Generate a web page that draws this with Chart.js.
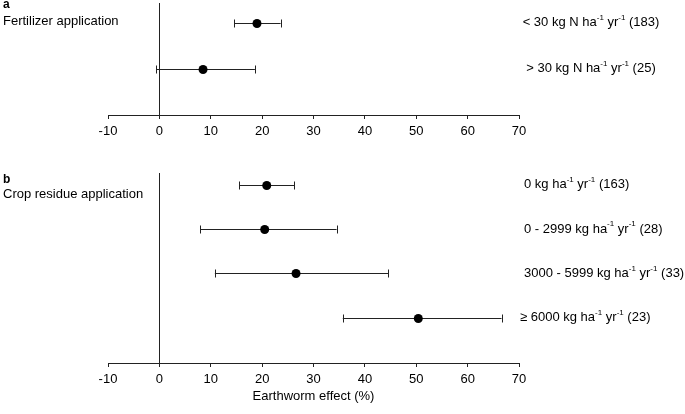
<!DOCTYPE html>
<html>
<head>
<meta charset="utf-8">
<script src="https://cdn.jsdelivr.net/npm/chart.js@4.4.1/dist/chart.umd.min.js"></script>
<style>
  body { margin: 0; background: #fff; overflow: hidden; }
  .panel { position: absolute; left: 0; width: 685px; }
  #top { top: 0; height: 144px; }
  #bottom { top: 160px; height: 250px; }
</style>
</head>
<body>
<div class="panel" id="top"><canvas id="chartA"></canvas></div>
<div class="panel" id="bottom"><canvas id="chartB"></canvas></div>
<script>
// panel a: fertilizer application
const fertLabels = ['< 30 kg N ha^-1 yr^-1 (183)', '> 30 kg N ha^-1 yr^-1 (25)'];
const fertMean = [19.0, 8.5];
const fertLow = [14.6, -0.6];
const fertHigh = [23.6, 18.6];

// panel b: crop residue application
const residueLabels = ['0 kg ha^-1 yr^-1 (163)', '0 - 2999 kg ha^-1 yr^-1 (28)', '3000 - 5999 kg ha^-1 yr^-1 (33)', '\u2265 6000 kg ha^-1 yr^-1 (23)'];
const residueMean = [20.9, 20.5, 26.6, 50.4];
const residueLow = [15.5, 8.0, 10.8, 35.7];
const residueHigh = [26.3, 34.5, 44.5, 66.6];

const xTicks = [-10, 0, 10, 20, 30, 40, 50, 60, 70];
const xTitle = 'Earthworm effect (%)';

const FONT = 'Liberation Sans, Arial, sans-serif';
Chart.defaults.font.family = FONT;
Chart.defaults.color = '#000';

// draws text with "^-1" style superscripts
function richText(ctx, str, x, y, align) {
  const parts = str.split(/(\^-?\d+)/).filter(s => s.length);
  const segs = parts.map(p => p[0] === '^' ? {t: p.slice(1), sup: true} : {t: p, sup: false});
  let total = 0;
  segs.forEach(s => {
    ctx.font = (s.sup ? '8px ' : '13px ') + FONT;
    s.w = ctx.measureText(s.t).width;
    total += s.w;
  });
  let cx = align === 'center' ? x - total / 2 : x;
  if (str[0] === '\u2265') cx -= 4; // the >= label hangs a little to the left
  ctx.textBaseline = 'middle';
  ctx.textAlign = 'left';
  segs.forEach(s => {
    ctx.font = (s.sup ? '8px ' : '13px ') + FONT;
    ctx.fillText(s.t, cx, s.sup ? y - 5 : y);
    cx += s.w;
  });
}

const errorBars = {
  id: 'errorBars',
  afterDatasetsDraw(chart, args, opts) {
    const ctx = chart.ctx;
    const xs = chart.scales.x, ys = chart.scales.y;
    ctx.save();
    ctx.strokeStyle = '#222';
    ctx.lineWidth = 1;
    opts.low.forEach((lo, i) => {
      const y = Math.round(ys.getPixelForValue(i + 1)) + 0.5;
      const x1 = xs.getPixelForValue(lo), x2 = xs.getPixelForValue(opts.high[i]);
      ctx.beginPath();
      ctx.moveTo(x1, y); ctx.lineTo(x2, y);
      ctx.moveTo(Math.round(x1) + 0.5, y - 4); ctx.lineTo(Math.round(x1) + 0.5, y + 4);
      ctx.moveTo(Math.round(x2) + 0.5, y - 4); ctx.lineTo(Math.round(x2) + 0.5, y + 4);
      ctx.stroke();
    });
    // points on top of the bars
    const meta = chart.getDatasetMeta(0);
    ctx.fillStyle = '#000';
    meta.data.forEach(pt => {
      ctx.beginPath();
      ctx.arc(pt.x, Math.round(pt.y) + 0.5, 4.5, 0, Math.PI * 2);
      ctx.fill();
    });
    // row labels on the right
    opts.labels.forEach((lab, i) => {
      const y = ys.getPixelForValue(i + 1);
      richText(ctx, lab, opts.labelX, y, opts.labelAlign);
    });
    // panel titles
    ctx.textAlign = 'left';
    ctx.textBaseline = 'middle';
    ctx.font = 'bold 12px ' + FONT;
    ctx.fillText(opts.letter, 3, opts.letterY);
    ctx.font = '13px ' + FONT;
    ctx.fillText(opts.title, 3, opts.titleY);
    // x axis title, only in the lower panel
    if (opts.axisTitle) {
      ctx.textAlign = 'center';
      ctx.fillText(opts.axisTitle, (xs.left + xs.right) / 2, xs.top + 33);
    }
    ctx.restore();
  }
};

function makeChart(id, labels, mean, low, high, yMin, yMax, extra) {
  const pts = mean.map((m, i) => ({x: m, y: i + 1}));
  return new Chart(document.getElementById(id), {
    type: 'scatter',
    data: {
      datasets: [{
        data: pts,
        pointRadius: 0,
        pointHoverRadius: 0,
        backgroundColor: '#000'
      }]
    },
    plugins: [errorBars],
    options: {
      responsive: true,
      maintainAspectRatio: false,
      animation: false,
      events: [],
      layout: { padding: { left: 108, right: 166, top: extra.padTop, bottom: extra.padBottom } },
      plugins: {
        legend: { display: false },
        tooltip: { enabled: false },
        errorBars: Object.assign({ labels: labels, low: low, high: high }, extra)
      },
      scales: {
        x: {
          type: 'linear',
          min: -10,
          max: 70,
          afterBuildTicks: axis => { axis.ticks = xTicks.map(v => ({value: v})); },
          border: { display: true, color: '#222', width: 1 },
          grid: {
            color: c => c.tick && c.tick.value === 0 ? '#222' : 'rgba(0,0,0,0)',
            tickColor: '#222',
            tickLength: 4,
            drawOnChartArea: true
          },
          ticks: { font: { size: 13, lineHeight: 1 }, color: '#000', padding: 6, maxRotation: 0, autoSkip: false }
        },
        y: {
          type: 'linear',
          reverse: true,
          min: yMin,
          max: yMax,
          display: false
        }
      }
    }
  });
}

makeChart('chartA', fertLabels, fertMean, fertLow, fertHigh, 0.57, 3.01,
  { labelX: 591, labelAlign: 'center', letter: 'a', letterY: 5, title: 'Fertilizer application', titleY: 21, padTop: 3, padBottom: 0 });
makeChart('chartB', residueLabels, residueMean, residueLow, residueHigh, 0.74, 5.02,
  { labelX: 524, labelAlign: 'left', letter: 'b', letterY: 20, title: 'Crop residue application', titleY: 34, padTop: 13, padBottom: 18, axisTitle: xTitle });
</script>
</body>
</html>
